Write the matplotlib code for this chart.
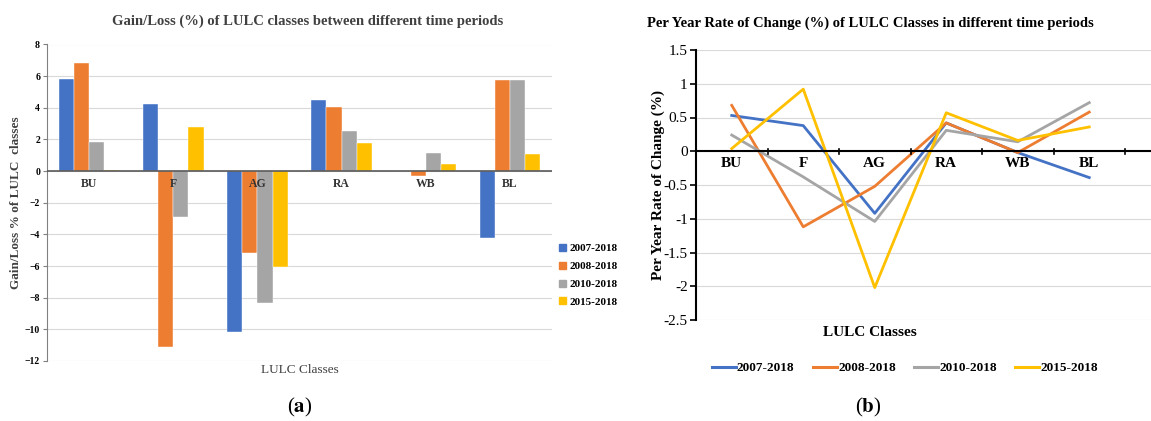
import numpy as np
import matplotlib
matplotlib.use("Agg")
import matplotlib.pyplot as plt
from matplotlib.patches import Patch
from matplotlib.lines import Line2D

plt.rcParams['font.family'] = ['Liberation Serif', 'DejaVu Serif']
plt.rcParams['mathtext.fontset'] = 'stix'

classes = ["BU", "F", "AG", "RA", "WB", "BL"]
periods = ["2007-2018", "2008-2018", "2010-2018", "2015-2018"]
colors = ["#4472C4", "#ED7D31", "#A5A5A5", "#FFC000"]

# gain / loss (%) per class
gain_2007 = [5.85, 4.25, -10.15, 4.52, 0.0, -4.25]
gain_2008 = [6.82, -11.12, -5.2, 4.05, -0.32, 5.78]
gain_2010 = [1.86, -2.92, -8.33, 2.52, 1.13, 5.78]
gain_2015 = [0.1, 2.77, -6.07, 1.75, 0.46, 1.05]

# per year rate of change (%)
rate_2007 = [0.53, 0.38, -0.92, 0.42, -0.02, -0.39]
rate_2008 = [0.68, -1.12, -0.52, 0.42, -0.02, 0.58]
rate_2010 = [0.24, -0.38, -1.04, 0.31, 0.14, 0.72]
rate_2015 = [0.04, 0.92, -2.02, 0.57, 0.16, 0.36]

gains = [gain_2007, gain_2008, gain_2010, gain_2015]
rates = [rate_2007, rate_2008, rate_2010, rate_2015]

W, H = 1151, 421
fig = plt.figure(figsize=(W / 100, H / 100), dpi=100)

grid_c = "#D9D9D9"

# ---- (a) bar chart ----
ax1 = fig.add_axes([47 / W, 1 - 361 / H, 505 / W, 316.5 / H])
x = np.arange(len(classes))
bw = 0.18
for i, (vals, c) in enumerate(zip(gains, colors)):
    ax1.bar(x + (i - 1.5) * bw, vals, bw, color=c, edgecolor="white", linewidth=0.3, zorder=3)
ax1.set_xlim(-0.5, 5.5)
ax1.set_ylim(-12, 8)
ax1.set_yticks(np.arange(-12, 9, 2))
ax1.tick_params(axis="y", labelsize=7, length=3, color="#808080", pad=2)
for lb in ax1.get_yticklabels():
    lb.set_fontweight("bold")
ax1.set_xticks([])
ax1.grid(axis="y", color=grid_c, linewidth=0.8, zorder=0)
for s in ["top", "right", "bottom"]:
    ax1.spines[s].set_visible(False)
ax1.spines["left"].set_color("#808080")
ax1.axhline(0, color="#595959", linewidth=1.2, zorder=4)
for xi, name in zip(x, classes):
    ax1.text(xi, -0.45, name, ha="center", va="top", fontsize=8.5, fontweight="bold",
             color="#333333", zorder=5)
ax1.set_ylabel("Gain/Loss % of LULC  classes", fontsize=9.5, fontweight="bold", color="#404040",
               labelpad=2)
ax1.set_xlabel("LULC Classes", fontsize=9.5, color="#404040", labelpad=2)
fig.text(308 / W, 1 - 21 / H, "Gain/Loss (%) of LULC classes between different time periods",
         ha="center", va="center", fontsize=10.5, fontweight="bold", color="#404040")
handles = [Patch(color=c, label=p) for c, p in zip(colors, periods)]
fig.legend(handles=handles, loc="upper left", bbox_to_anchor=(549 / W, 1 - 234 / H),
           frameon=False, handlelength=0.6, handleheight=0.6,
           handletextpad=0.3, labelspacing=0.75, prop={"weight": "bold", "size": 8})

# ---- (b) line chart ----
ax2 = fig.add_axes([696 / W, 1 - 320 / H, 455 / W, 270 / H])
for vals, c, p in zip(rates, colors, periods):
    ax2.plot(x, vals, color=c, linewidth=2, label=p, zorder=3)
ax2.set_xlim(-0.5, -0.5 + 455 / 71.5)
ax2.set_ylim(-2.5, 1.5)
ax2.set_yticks(np.arange(-2.5, 1.6, 0.5))
ax2.set_yticklabels(["-2.5", "-2", "-1.5", "-1", "-0.5", "0", "0.5", "1", "1.5"])
ax2.tick_params(axis="y", labelsize=11, length=4, width=1.2, pad=2)
ax2.set_xticks([])
ax2.grid(axis="y", color=grid_c, linewidth=0.8, zorder=0)
for s in ["top", "right", "bottom"]:
    ax2.spines[s].set_visible(False)
ax2.spines["left"].set_linewidth(1.5)
ax2.axhline(0, color="black", linewidth=1.5, zorder=4)
for b in np.arange(0.5, 5.6, 1):
    ax2.plot([b, b], [-0.04, 0.04], color="black", linewidth=1.2, zorder=4)
for xi, name in zip(x, classes):
    ax2.text(xi, -0.08, name, ha="center", va="top", fontsize=11, fontweight="bold", zorder=5)
ax2.set_ylabel("Per Year Rate of Change (%)", fontsize=11, fontweight="bold", labelpad=-1)
fig.text(870 / W, 1 - 332 / H, "LULC Classes", ha="center", va="center",
         fontsize=11, fontweight="bold")
fig.text(870 / W, 1 - 23 / H, "Per Year Rate of Change (%) of LULC Classes in different time periods",
         ha="center", va="center", fontsize=10.5, fontweight="bold")
lines = [Line2D([], [], color=c, linewidth=2.2, label=p) for c, p in zip(colors, periods)]
fig.legend(handles=lines, loc="center", bbox_to_anchor=(905 / W, 1 - 368 / H), ncol=4,
           frameon=False, handlelength=1.8, handletextpad=0.1, columnspacing=1.4,
           prop={"weight": "bold", "size": 9.5})

fig.text(300 / W, 1 - 407 / H, r"($\mathbf{a}$)", ha="center", va="center", fontsize=15)
fig.text(868 / W, 1 - 407 / H, r"($\mathbf{b}$)", ha="center", va="center", fontsize=15)

fig.savefig("out.png", dpi=100)
